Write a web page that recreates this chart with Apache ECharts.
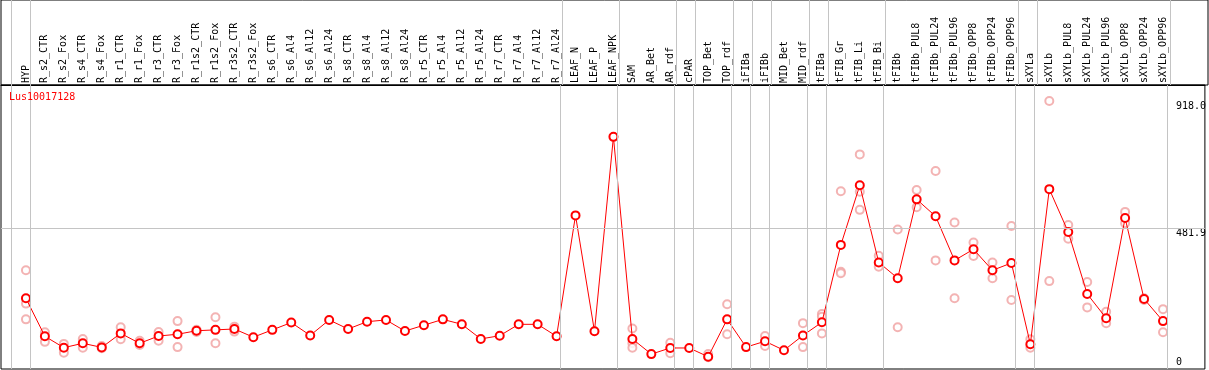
<!DOCTYPE html>
<html>
<head>
<meta charset="utf-8">
<script src="https://cdn.jsdelivr.net/npm/echarts@6/dist/echarts.min.js"></script>
<style>
  html, body { margin: 0; padding: 0; background: #fff; }
  #chart { width: 1209px; height: 370px; }
</style>
</head>
<body>
<div id="chart"></div>
<script>
const categories = [
  'HYP','R_s2_CTR','R_s2_Fox','R_s4_CTR','R_s4_Fox','R_r1_CTR','R_r1_Fox','R_r3_CTR','R_r3_Fox',
  'R_r1s2_CTR','R_r1s2_Fox','R_r3s2_CTR','R_r3s2_Fox','R_s6_CTR','R_s6_Al4','R_s6_Al12','R_s6_Al24',
  'R_s8_CTR','R_s8_Al4','R_s8_Al12','R_s8_Al24','R_r5_CTR','R_r5_Al4','R_r5_Al12','R_r5_Al24',
  'R_r7_CTR','R_r7_Al4','R_r7_Al12','R_r7_Al24','LEAF_N','LEAF_P','LEAF_NPK','SAM','AR_Bet','AR_rdf',
  'cPAR','TOP_Bet','TOP_rdf','iFIBa','iFIBb','MID_Bet','MID_rdf','tFIBa','tFIB_Gr','tFIB_Li','tFIB_Bi',
  'tFIBb','tFIBb_PUL8','tFIBb_PUL24','tFIBb_PUL96','tFIBb_OPP8','tFIBb_OPP24','tFIBb_OPP96',
  'sXYLa','sXYLb','sXYLb_PUL8','sXYLb_PUL24','sXYLb_PUL96','sXYLb_OPP8','sXYLb_OPP24','sXYLb_OPP96'
];

const means = [
  242, 112, 73, 88, 74, 122, 88, 113, 119,
  131, 134, 137, 109, 134, 159, 115, 168,
  137, 162, 168, 130, 150, 170, 153, 103,
  114, 153, 153, 112, 526, 129, 795, 103, 51, 72,
  72, 42, 170, 75, 95, 64, 115, 160, 425, 629, 365,
  311, 581, 523, 372, 410, 338, 363,
  85, 616, 469, 257, 174, 517, 240, 164
];

const replicates = [
  [338, 224, 170], [126, 93], [86, 56], [103, 73], [79, 71], [143, 102], [97, 82], [127, 97], [164, 75],
  [134, 127], [177, 88], [145, 128], [], [], [], [], [],
  [], [], [], [], [], [], [], [],
  [], [], [], [], [], [], [], [139, 88, 73], [], [90, 54],
  [], [51, 40], [222, 119], [], [113, 79], [], [157, 75], [188, 179, 122], [609, 333, 328], [735, 607, 545], [388, 350],
  [478, 143], [613, 554], [678, 372], [502, 242], [433, 387], [365, 311], [490, 236],
  [102, 73], [918, 301], [493, 446], [298, 211], [196, 157], [538, 499], [242, 236], [205, 126]
];

const separatorsAfter = [-1, 0, 28, 31, 34, 35, 37, 38, 39, 41, 42, 45, 52, 53, 60];
const yTopLabels = [481.9, 918.0];
const yBottomLabels = [0];
const geneName = 'Lus10017128';

const FONT = 'DejaVu Sans Mono';
const SEP_SHIFT = 0.22;
const X_MIN = -1.316, X_MAX = 62.21, Y_MAX = 972.6;

const lineData = means.map((v, i) => [i, v]);
const repData = [];
replicates.forEach((arr, i) => arr.forEach(v => repData.push([i, v])));

const sepData = separatorsAfter.map(i => ({ xAxis: i + SEP_SHIFT }));
const plotMarks = sepData.concat([{ yAxis: yTopLabels[0] }]);

const sepLineStyle = { color: '#c4c4c4', width: 1, type: 'solid' };

const chart = echarts.init(document.getElementById('chart'), null, { renderer: 'canvas' });
chart.setOption({
  animation: false,
  backgroundColor: '#fff',
  title: {
    text: geneName,
    left: 9, top: 92, padding: 0,
    textStyle: { color: '#ff0000', fontSize: 10, fontWeight: 'normal', fontFamily: FONT }
  },
  grid: [
    { left: 1, right: 1, top: 85, bottom: 1, show: true, borderColor: '#000', borderWidth: 1, backgroundColor: 'transparent' },
    { left: 1, right: 1, top: 0, height: 85, show: true, borderColor: '#000', borderWidth: 1, backgroundColor: 'transparent' }
  ],
  xAxis: [
    {
      type: 'value', gridIndex: 0, position: 'top',
      min: X_MIN, max: X_MAX,
      axisLine: { show: true, onZero: false, lineStyle: { color: '#000', width: 1 } },
      axisTick: { show: false },
      splitLine: { show: false },
      axisLabel: {
        customValues: categories.map((c, i) => i),
        formatter: v => categories[Math.round(v)],
        rotate: -90,
        margin: 2,
        color: '#000',
        fontSize: 10,
        fontFamily: FONT
      }
    },
    {
      type: 'value', gridIndex: 1, min: X_MIN, max: X_MAX, show: false
    }
  ],
  yAxis: [
    {
      type: 'value', gridIndex: 0, min: 0, max: Y_MAX, position: 'right', offset: -29,
      axisLine: { show: false }, axisTick: { show: false }, splitLine: { show: false },
      axisLabel: {
        customValues: yTopLabels,
        formatter: v => v.toFixed(1),
        margin: 0, align: 'left', verticalAlign: 'top',
        color: '#000', fontSize: 10, fontFamily: FONT
      }
    },
    {
      type: 'value', gridIndex: 0, min: 0, max: Y_MAX, position: 'right', offset: -29,
      axisLine: { show: false }, axisTick: { show: false }, splitLine: { show: false },
      axisLabel: {
        customValues: yBottomLabels,
        formatter: v => String(v),
        margin: 0, align: 'left', verticalAlign: 'bottom', padding: [0, 0, 2, 0],
        color: '#000', fontSize: 10, fontFamily: FONT
      }
    },
    {
      type: 'value', gridIndex: 1, min: 0, max: 1, show: false
    }
  ],
  series: [
    {
      type: 'scatter',
      xAxisIndex: 1, yAxisIndex: 2,
      data: [[X_MIN, -1]],
      symbolSize: 0,
      silent: true,
      z: 1,
      markLine: {
        silent: true, symbol: 'none', label: { show: false },
        lineStyle: sepLineStyle,
        data: sepData
      }
    },
    {
      type: 'scatter',
      xAxisIndex: 0, yAxisIndex: 0,
      data: repData,
      symbol: 'emptyCircle',
      symbolSize: 8,
      itemStyle: { color: '#f0a0a0', borderColor: '#f0a0a0', borderWidth: 1 },
      z: 2,
      silent: true,
      markLine: {
        silent: true, symbol: 'none', label: { show: false },
        lineStyle: sepLineStyle,
        data: plotMarks
      }
    },
    {
      type: 'line',
      xAxisIndex: 0, yAxisIndex: 0,
      data: lineData,
      symbol: 'emptyCircle',
      symbolSize: 8,
      lineStyle: { color: '#ff0000', width: 1 },
      itemStyle: { color: '#ff0000', borderColor: '#ff0000', borderWidth: 1.3 },
      z: 3,
      silent: true
    }
  ]
});
</script>
</body>
</html>
